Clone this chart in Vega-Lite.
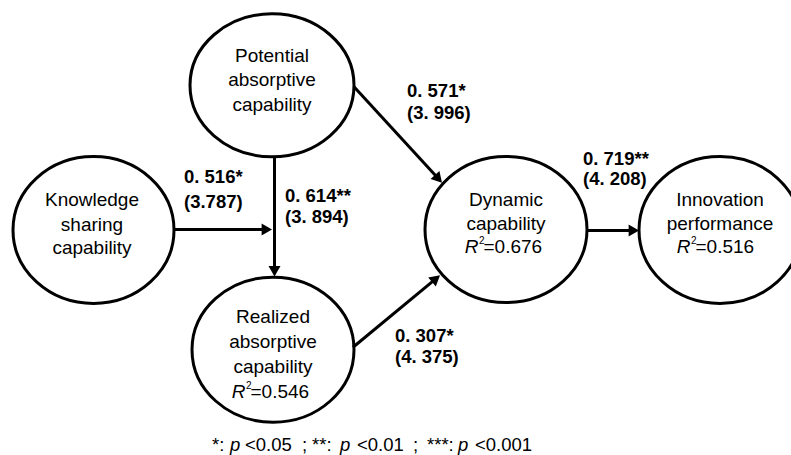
{
  "$schema": "https://vega.github.io/schema/vega-lite/v6.json",
  "width": 791,
  "height": 455,
  "autosize": {"type": "fit", "contains": "padding"},
  "padding": 0,
  "background": "white",
  "config": {"view": {"stroke": null}},
  "datasets": {
    "ellipses": [
      {"id": "pot", "x": 272, "y": 85.5},
      {"id": "ks", "x": 93.5, "y": 230.5},
      {"id": "rea", "x": 273, "y": 350.5},
      {"id": "dyn", "x": 506, "y": 230},
      {"id": "inn", "x": 720, "y": 230.5}
    ],
    "lines": [
      {"x": 174, "y": 230, "x2": 268, "y2": 230},
      {"x": 274.5, "y": 157, "x2": 274.5, "y2": 273},
      {"x": 354, "y": 87, "x2": 438.5, "y2": 179.2},
      {"x": 353, "y": 348, "x2": 436, "y2": 279.3},
      {"x": 587, "y": 231, "x2": 635, "y2": 231}
    ],
    "heads": [
      {"edge": "ks", "x": 266.8, "y": 230},
      {"edge": "pr", "x": 274.5, "y": 271.8},
      {"edge": "pd", "x": 438.5, "y": 179.2},
      {"edge": "rd", "x": 436, "y": 279.3},
      {"edge": "di", "x": 633.8, "y": 231}
    ],
    "ntext": [
      {"t": "Potential", "x": 272, "y": 56},
      {"t": "absorptive", "x": 272, "y": 80.5},
      {"t": "capability", "x": 272, "y": 105},
      {"t": "Knowledge", "x": 92, "y": 200},
      {"t": "sharing", "x": 92, "y": 225},
      {"t": "capability", "x": 92, "y": 249},
      {"t": "Realized", "x": 273, "y": 318},
      {"t": "absorptive", "x": 273, "y": 343},
      {"t": "capability", "x": 273, "y": 368},
      {"t": "Dynamic", "x": 506, "y": 200},
      {"t": "capability", "x": 506, "y": 224},
      {"t": "Innovation", "x": 720, "y": 200},
      {"t": "performance", "x": 720, "y": 224}
    ],
    "r2": [
      {"x": 245.5, "y": 393, "v": "=0.546"},
      {"x": 478.5, "y": 248, "v": "=0.676"},
      {"x": 690.5, "y": 248, "v": "=0.516"}
    ],
    "labels": [
      {"t": "0. 516*", "x": 184, "y": 177},
      {"t": "(3.787)", "x": 184, "y": 202},
      {"t": "0. 614**", "x": 285, "y": 196.5},
      {"t": "(3. 894)", "x": 285, "y": 217},
      {"t": "0. 571*", "x": 407, "y": 91},
      {"t": "(3. 996)", "x": 407, "y": 113},
      {"t": "0. 719**", "x": 583, "y": 159},
      {"t": "(4. 208)", "x": 583, "y": 179},
      {"t": "0. 307*", "x": 395, "y": 337},
      {"t": "(4. 375)", "x": 395, "y": 358}
    ],
    "foot": [
      {"t": "*:", "x": 212, "y": 446, "k": "n"},
      {"t": "p", "x": 230, "y": 446, "k": "i"},
      {"t": "<0.05", "x": 245, "y": 446, "k": "n"},
      {"t": ";", "x": 302, "y": 446, "k": "n"},
      {"t": "**:", "x": 312, "y": 446, "k": "n"},
      {"t": "p", "x": 340, "y": 446, "k": "i"},
      {"t": "<0.01", "x": 357, "y": 446, "k": "n"},
      {"t": ";", "x": 413, "y": 446, "k": "n"},
      {"t": "***:", "x": 427, "y": 446, "k": "n"},
      {"t": "p", "x": 458, "y": 446, "k": "i"},
      {"t": "<0.001", "x": 475, "y": 446, "k": "n"}
    ]
  },
  "encoding": {
    "x": {"field": "x", "type": "quantitative", "scale": {"domain": [0, 791], "nice": false, "zero": false}, "axis": null},
    "y": {"field": "y", "type": "quantitative", "scale": {"domain": [0, 455], "nice": false, "zero": false, "reverse": true}, "axis": null}
  },
  "layer": [
    {
      "data": {"name": "ellipses"},
      "mark": {"type": "point", "filled": false, "stroke": "black", "strokeWidth": 3, "size": 40000, "opacity": 1, "clip": true},
      "encoding": {
        "shape": {
          "field": "id", "type": "nominal", "legend": null,
          "scale": {
            "domain": ["pot", "ks", "rea", "dyn", "inn"],
            "range": [
              "M -0.82 0 C -0.82 -0.3949 -0.4529 -0.715 0 -0.715 C 0.4529 -0.715 0.82 -0.3949 0.82 0 C 0.82 0.3949 0.4529 0.715 0 0.715 C -0.4529 0.715 -0.82 0.3949 -0.82 0 Z",
              "M -0.805 0 C -0.805 -0.4059 -0.4446 -0.735 0 -0.735 C 0.4446 -0.735 0.805 -0.4059 0.805 0 C 0.805 0.4059 0.4446 0.735 0 0.735 C -0.4446 0.735 -0.805 0.4059 -0.805 0 Z",
              "M -0.81 0 C -0.81 -0.4004 -0.4474 -0.725 0 -0.725 C 0.4474 -0.725 0.81 -0.4004 0.81 0 C 0.81 0.4004 0.4474 0.725 0 0.725 C -0.4474 0.725 -0.81 0.4004 -0.81 0 Z",
              "M -0.81 0 C -0.81 -0.4032 -0.4474 -0.73 0 -0.73 C 0.4474 -0.73 0.81 -0.4032 0.81 0 C 0.81 0.4032 0.4474 0.73 0 0.73 C -0.4474 0.73 -0.81 0.4032 -0.81 0 Z",
              "M -0.81 0 C -0.81 -0.4059 -0.4474 -0.735 0 -0.735 C 0.4474 -0.735 0.81 -0.4059 0.81 0 C 0.81 0.4059 0.4474 0.735 0 0.735 C -0.4474 0.735 -0.81 0.4059 -0.81 0 Z"
            ]
          }
        }
      }
    },
    {
      "data": {"name": "lines"},
      "mark": {"type": "rule", "color": "black", "strokeWidth": 3},
      "encoding": {
        "x2": {"field": "x2"},
        "y2": {"field": "y2"}
      }
    },
    {
      "data": {"name": "heads"},
      "transform": [{"filter": "datum.edge == 'ks' || datum.edge == 'di'"}],
      "mark": {"type": "point", "shape": "triangle-right", "filled": true, "color": "black", "size": 144, "opacity": 1, "angle": 0}
    },
    {
      "data": {"name": "heads"},
      "transform": [{"filter": "datum.edge == 'pr'"}],
      "mark": {"type": "point", "shape": "triangle-right", "filled": true, "color": "black", "size": 144, "opacity": 1, "angle": 90}
    },
    {
      "data": {"name": "heads"},
      "transform": [{"filter": "datum.edge == 'pd'"}],
      "mark": {"type": "point", "shape": "triangle-right", "filled": true, "color": "black", "size": 144, "opacity": 1, "angle": 47.5}
    },
    {
      "data": {"name": "heads"},
      "transform": [{"filter": "datum.edge == 'rd'"}],
      "mark": {"type": "point", "shape": "triangle-right", "filled": true, "color": "black", "size": 144, "opacity": 1, "angle": -39.6}
    },
    {
      "data": {"name": "ntext"},
      "mark": {"type": "text", "font": "Liberation Sans", "fontSize": 19, "color": "black", "align": "center", "baseline": "middle"},
      "encoding": {"text": {"field": "t"}}
    },
    {
      "data": {"name": "r2"},
      "mark": {"type": "text", "font": "Liberation Sans", "fontSize": 19, "fontStyle": "italic", "color": "black", "align": "right", "baseline": "middle"},
      "encoding": {"text": {"value": "R"}}
    },
    {
      "data": {"name": "r2"},
      "mark": {"type": "text", "font": "Liberation Sans", "fontSize": 10, "color": "black", "align": "left", "baseline": "middle", "dx": 0.5, "dy": -6},
      "encoding": {"text": {"value": "2"}}
    },
    {
      "data": {"name": "r2"},
      "mark": {"type": "text", "font": "Liberation Sans", "fontSize": 19, "color": "black", "align": "left", "baseline": "middle", "dx": 5},
      "encoding": {"text": {"field": "v"}}
    },
    {
      "data": {"name": "labels"},
      "mark": {"type": "text", "font": "Liberation Sans", "fontSize": 18.5, "fontWeight": "bold", "color": "black", "align": "left", "baseline": "middle"},
      "encoding": {"text": {"field": "t"}}
    },
    {
      "data": {"name": "foot"},
      "transform": [{"filter": "datum.k == 'n'"}],
      "mark": {"type": "text", "font": "Liberation Sans", "fontSize": 18.5, "color": "black", "align": "left", "baseline": "middle"},
      "encoding": {"text": {"field": "t"}}
    },
    {
      "data": {"name": "foot"},
      "transform": [{"filter": "datum.k == 'i'"}],
      "mark": {"type": "text", "font": "Liberation Sans", "fontSize": 18.5, "fontStyle": "italic", "color": "black", "align": "left", "baseline": "middle"},
      "encoding": {"text": {"field": "t"}}
    }
  ]
}
